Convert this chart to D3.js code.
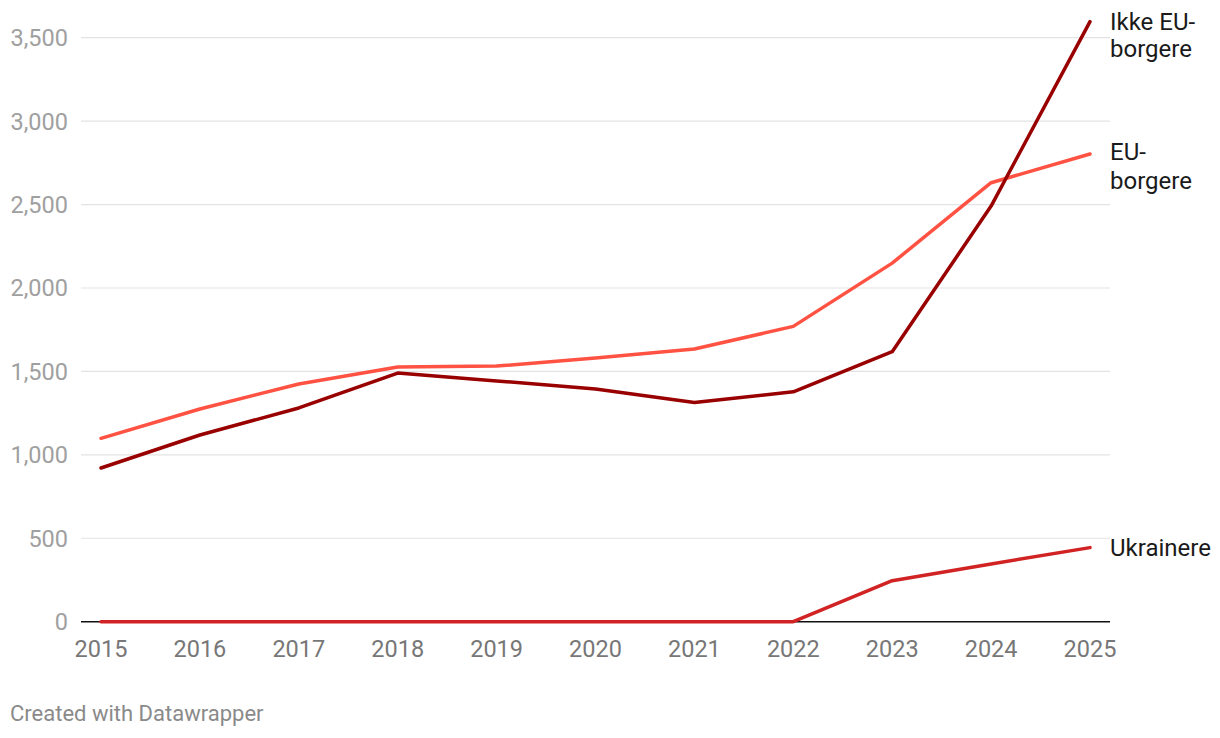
<!DOCTYPE html>
<html>
<head>
<meta charset="utf-8">
<script src="https://cdn.jsdelivr.net/npm/d3@7"></script>
<style>
  html, body { margin: 0; padding: 0; background: #fff; }
  svg { display: block; font-family: Roboto, "Noto Sans", sans-serif; }
</style>
</head>
<body>
<svg id="chart" width="1220" height="738"></svg>
<script>
const years = [2015, 2016, 2017, 2018, 2019, 2020, 2021, 2022, 2023, 2024, 2025];
const ikkeEU = [921, 1119, 1281, 1490, 1443, 1395, 1314, 1378, 1618, 2491, 3596];
const eu = [1099, 1275, 1425, 1526, 1532, 1580, 1634, 1770, 2149, 2631, 2803];
const ukrainere = [0, 0, 0, 0, 0, 0, 0, 0, 246, 346, 444];
const yTicks = [0, 500, 1000, 1500, 2000, 2500, 3000, 3500];
const seriesNames = [["Ikke EU-", "borgere"], ["EU-", "borgere"], ["Ukrainere"]];
const seriesColors = ["#990000", "#ff5242", "#d12323"];

const svg = d3.select("#chart");
const x = d3.scaleLinear().domain([2015, 2025]).range([101, 1090]);
const y = d3.scaleLinear().domain([0, 3500]).range([621.7, 37.7]);
const gridX0 = 81, gridX1 = 1110;

// gridlines
svg.append("g").selectAll("line").data(yTicks.filter(d => d !== 0)).join("line")
  .attr("x1", gridX0).attr("x2", gridX1)
  .attr("y1", d => y(d)).attr("y2", d => y(d))
  .attr("stroke", "#e3e3e3").attr("stroke-width", 1.2);

// y tick labels
svg.append("g").selectAll("text").data(yTicks).join("text")
  .attr("x", 68).attr("y", d => y(d) + 8.5)
  .attr("text-anchor", "end")
  .attr("font-size", 23.5).attr("fill", "#a0a0a0")
  .text(d => d3.format(",")(d));

// x tick labels
svg.append("g").selectAll("text").data(years).join("text")
  .attr("x", d => x(d)).attr("y", 657)
  .attr("text-anchor", "middle")
  .attr("font-size", 23.5).attr("fill", "#777")
  .text(d => d);

// baseline
svg.append("line")
  .attr("x1", gridX0).attr("x2", gridX1)
  .attr("y1", y(0)).attr("y2", y(0))
  .attr("stroke", "#111").attr("stroke-width", 1.5);

const series = [ikkeEU, eu, ukrainere];
const line = d3.line().x((d, i) => x(years[i])).y(d => y(d));

// draw Ukrainere first, then EU, then Ikke EU on top
[2, 1, 0].forEach(k => {
  svg.append("path")
    .datum(series[k])
    .attr("fill", "none")
    .attr("stroke", seriesColors[k])
    .attr("stroke-width", 3.5)
    .attr("stroke-linejoin", "round")
    .attr("stroke-linecap", "round")
    .attr("d", line);
});

// labels
const labelOffsets = [[30, 57], [160, 188.5], [556]];
series.forEach((s, k) => {
  const t = svg.append("text")
    .attr("x", 1110)
    .attr("font-size", 24).attr("fill", "#1a1a1a");
  seriesNames[k].forEach((nm, j) => {
    t.append("tspan").attr("x", 1110).attr("y", labelOffsets[k][j]).text(nm);
  });
});

// footer
svg.append("text")
  .attr("x", 10).attr("y", 721)
  .attr("font-size", 22).attr("fill", "#8a8a8a")
  .text("Created with Datawrapper");
</script>
</body>
</html>
